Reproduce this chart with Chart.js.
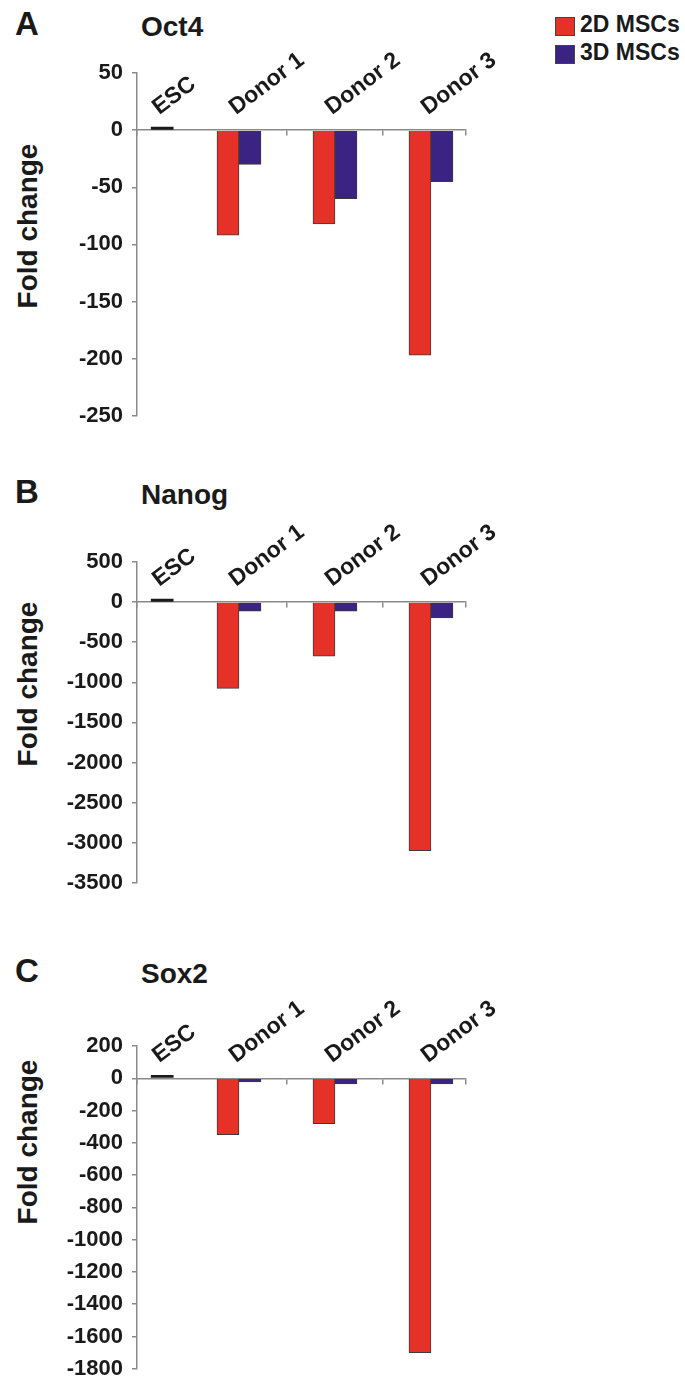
<!DOCTYPE html>
<html>
<head>
<meta charset="utf-8">
<script src="https://cdn.jsdelivr.net/npm/chart.js@4/dist/chart.umd.min.js"></script>
<style>
  html, body { margin: 0; padding: 0; background: #fff; }
  body { width: 685px; height: 1376px; position: relative; overflow: hidden;
         font-family: "Liberation Sans", Arial, sans-serif; color: #1a1a1a; font-weight: bold; }
  .abs { position: absolute; white-space: nowrap; line-height: 1; }
  .panel { font-size: 33px; left: 15px; }
  .gene { font-size: 28px; left: 141px; }
  .ytitle { font-size: 28px; transform: translate(-50%, -50%) rotate(-90deg); }
  .wrap { position: absolute; left: 0; width: 685px; }
  .sw { position: absolute; width: 18px; height: 17px; border: 1px solid #444; }
  .lg { font-size: 23px; left: 580px; }
</style>
</head>
<body>
<div class="abs panel" style="top:7px">A</div>
<div class="abs gene" style="top:13px">Oct4</div>
<div class="abs panel" style="top:475px">B</div>
<div class="abs gene" style="top:481px">Nanog</div>
<div class="abs panel" style="top:954px">C</div>
<div class="abs gene" style="top:960px">Sox2</div>

<div class="abs ytitle" style="left:28px; top:226px">Fold change</div>
<div class="abs ytitle" style="left:28px; top:684px">Fold change</div>
<div class="abs ytitle" style="left:28px; top:1142px">Fold change</div>

<div class="sw" style="left:555px; top:17px; background:#E53127"></div>
<div class="sw" style="left:555px; top:45px; background:#3B2383"></div>
<div class="abs lg" style="top:13px">2D MSCs</div>
<div class="abs lg" style="top:41px">3D MSCs</div>

<div class="wrap" style="top:20px; height:418px"><canvas id="cA"></canvas></div>
<div class="wrap" style="top:490px; height:415px"><canvas id="cB"></canvas></div>
<div class="wrap" style="top:970px; height:421px"><canvas id="cC"></canvas></div>

<script>
// ---- data ----
const categories = ['ESC', 'Donor 1', 'Donor 2', 'Donor 3'];
const categoryPos = [0.7, 1.5, 2.5, 3.5];
const seriesNames = ['2D MSCs', '3D MSCs'];

const escValues = [1, null, null, null];

const oct4_2D = [null, -92, -82, -197];
const oct4_3D = [null, -30, -60, -45];

const nanog_2D = [null, -1075, -675, -3100];
const nanog_3D = [null, -112, -112, -196];

const sox2_2D = [null, -350, -281, -1700];
const sox2_3D = [null, -22, -35, -35];

const oct4Ticks = { min: -250, max: 50, step: 50 };
const nanogTicks = { min: -3500, max: 500, step: 500 };
const sox2Ticks = { min: -1800, max: 200, step: 200 };

// ---- styles ----
const RED = '#E53127';
const BLUE = '#3B2383';
const AXIS = '#8a8a8a';
const TEXT = '#1a1a1a';
const FONT = '"Liberation Sans", Arial, sans-serif';

function pts(values) {
  return values.map((v, i) => ({ x: categoryPos[i], y: v }));
}

const catLabelPlugin = {
  id: 'catLabels',
  afterDraw(chart) {
    const xs = chart.scales.x, ys = chart.scales.y;
    const ctx = chart.ctx;
    const y0 = ys.getPixelForValue(0);
    ctx.save();
    ctx.font = 'bold 23px ' + FONT;
    ctx.fillStyle = TEXT;
    ctx.textAlign = 'left';
    ctx.textBaseline = 'alphabetic';
    categories.forEach((c, i) => {
      const x = xs.getPixelForValue(categoryPos[i]);
      ctx.save();
      ctx.translate(x - 3, y0 - 15);
      ctx.rotate(-37 * Math.PI / 180);
      ctx.fillText(c, 0, 0);
      ctx.restore();
    });
    ctx.restore();
  }
};

function makeChart(id, d2, d3, t, padTop, padBottom) {
  return new Chart(document.getElementById(id), {
    type: 'bar',
    data: {
      datasets: [
        { label: 'ESC', data: pts(escValues), backgroundColor: '#1a1a1a', borderColor: '#1a1a1a', borderWidth: 0, minBarLength: 3 },
        { label: seriesNames[0], data: pts(d2), backgroundColor: RED, borderColor: '#3a3a3a', borderWidth: 1 },
        { label: seriesNames[1], data: pts(d3), backgroundColor: BLUE, borderColor: '#3a3a3a', borderWidth: 1 }
      ]
    },
    options: {
      responsive: true,
      maintainAspectRatio: false,
      animation: false,
      skipNull: true,
      barThickness: 22,
      layout: { padding: { left: 0, right: 219, top: padTop, bottom: padBottom } },
      plugins: { legend: { display: false }, tooltip: { enabled: false }, title: { display: false } },
      scales: {
        x: {
          type: 'linear',
          position: { y: 0 },
          min: 0.4375,
          max: 3.865,
          offset: false,
          grid: { display: true, drawOnChartArea: false, drawTicks: true, tickLength: 5, color: AXIS, lineWidth: 1.5, offset: false },
          border: { display: true, color: AXIS, width: 1.5 },
          ticks: { display: false, stepSize: 1 }
        },
        y: {
          type: 'linear',
          min: t.min,
          max: t.max,
          afterFit(scale) { scale.width = 137; },
          grid: { display: true, drawOnChartArea: false, drawTicks: true, tickLength: 5, color: AXIS, lineWidth: 1.5 },
          border: { display: true, color: AXIS, width: 1.5 },
          ticks: {
            stepSize: t.step, padding: 9, color: TEXT,
            font: { family: FONT, size: 22, weight: 'bold' },
            callback: (v) => String(v)
          }
        }
      }
    },
    plugins: [catLabelPlugin]
  });
}

makeChart('cA', oct4_2D, oct4_3D, oct4Ticks, 53, 10);
makeChart('cB', nanog_2D, nanog_3D, nanogTicks, 72, 10);
makeChart('cC', sox2_2D, sox2_3D, sox2Ticks, 76, 10);
</script>
</body>
</html>
